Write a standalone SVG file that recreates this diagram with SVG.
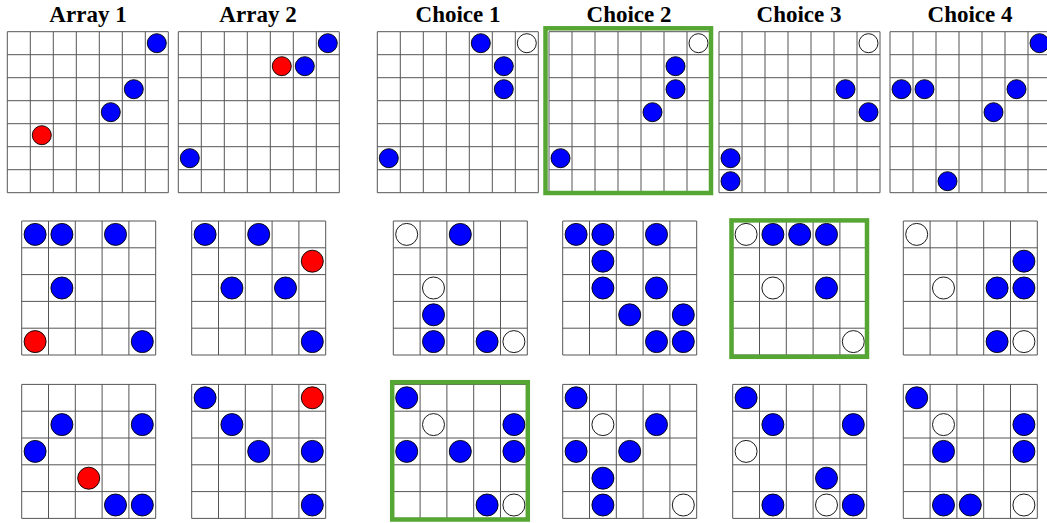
<svg xmlns="http://www.w3.org/2000/svg" xmlns:xlink="http://www.w3.org/1999/xlink" width="1047" height="523" viewBox="0 0 1047 523">
<style>
.t{font-family:"Liberation Serif","Times New Roman",serif;font-weight:bold;font-size:23px;text-anchor:middle;fill:#000}
.gl{fill:#fff;stroke:#555;stroke-width:1}
.b{fill:#0000ff;stroke:#000;stroke-width:0.9}
.r{fill:#ff0000;stroke:#000;stroke-width:0.9}
.w{fill:#fff;stroke:#000;stroke-width:0.9}
.hl{fill:none;stroke:#55a633;stroke-width:4.5}
</style>
<defs>
<path id="g7" class="gl" d="M0,0H161V161H0Z M23,0V161 M46,0V161 M69,0V161 M92,0V161 M115,0V161 M138,0V161 M0,23H161 M0,46H161 M0,69H161 M0,92H161 M0,115H161 M0,138H161"/>
<path id="g5" class="gl" d="M0,0H134V134H0Z M26.8,0V134 M53.6,0V134 M80.4,0V134 M107.2,0V134 M0,26.8H134 M0,53.6H134 M0,80.4H134 M0,107.2H134"/>
</defs>
<rect width="1047" height="523" fill="#fff"/>
<g id="titles">
<text class="t" x="88" y="22">Array 1</text>
<text class="t" x="258" y="22">Array 2</text>
<text class="t" x="458" y="22">Choice 1</text>
<text class="t" x="629" y="22">Choice 2</text>
<text class="t" x="799" y="22">Choice 3</text>
<text class="t" x="970" y="22">Choice 4</text>
</g>
<!-- Row 1 : 7x7 -->
<g id="r1-array1" transform="translate(7.3,31.7)">
<use xlink:href="#g7"/>
<circle class="b" cx="149.5" cy="11.5" r="9.5"/>
<circle class="b" cx="126.5" cy="57.5" r="9.5"/>
<circle class="b" cx="103.5" cy="80.5" r="9.5"/>
<circle class="r" cx="34.5" cy="103.5" r="9.5"/>
</g>
<g id="r1-array2" transform="translate(178.3,31.7)">
<use xlink:href="#g7"/>
<circle class="b" cx="149.5" cy="11.5" r="9.5"/>
<circle class="r" cx="103.5" cy="34.5" r="9.5"/>
<circle class="b" cx="126.5" cy="34.5" r="9.5"/>
<circle class="b" cx="11.5" cy="126.5" r="9.5"/>
</g>
<g id="r1-choice1" transform="translate(377.3,31.7)">
<use xlink:href="#g7"/>
<circle class="b" cx="103.5" cy="11.5" r="9.5"/>
<circle class="w" cx="149.5" cy="11.5" r="9.5"/>
<circle class="b" cx="126.5" cy="34.5" r="9.5"/>
<circle class="b" cx="126.5" cy="57.5" r="9.5"/>
<circle class="b" cx="11.5" cy="126.5" r="9.5"/>
</g>
<g id="r1-choice2" transform="translate(549,31.7)">
<use xlink:href="#g7"/>
<circle class="w" cx="149.5" cy="11.5" r="9.5"/>
<circle class="b" cx="126.5" cy="34.5" r="9.5"/>
<circle class="b" cx="126.5" cy="57.5" r="9.5"/>
<circle class="b" cx="103.5" cy="80.5" r="9.5"/>
<circle class="b" cx="11.5" cy="126.5" r="9.5"/>
<rect class="hl" x="-3.5" y="-3.4" width="165.5" height="164.7"/>
</g>
<g id="r1-choice3" transform="translate(719,31.7)">
<use xlink:href="#g7"/>
<circle class="w" cx="149.5" cy="11.5" r="9.5"/>
<circle class="b" cx="126.5" cy="57.5" r="9.5"/>
<circle class="b" cx="149.5" cy="80.5" r="9.5"/>
<circle class="b" cx="11.5" cy="126.5" r="9.5"/>
<circle class="b" cx="11.5" cy="149.5" r="9.5"/>
</g>
<g id="r1-choice4" transform="translate(890,31.7)">
<use xlink:href="#g7"/>
<circle class="b" cx="149.5" cy="11.5" r="9.5"/>
<circle class="b" cx="11.5" cy="57.5" r="9.5"/>
<circle class="b" cx="34.5" cy="57.5" r="9.5"/>
<circle class="b" cx="126.5" cy="57.5" r="9.5"/>
<circle class="b" cx="103.5" cy="80.5" r="9.5"/>
<circle class="b" cx="57.5" cy="149.5" r="9.5"/>
</g>
<!-- Row 2 : 5x5 -->
<g id="r2-array1" transform="translate(21.7,221)">
<use xlink:href="#g5"/>
<circle class="b" cx="13.4" cy="13.4" r="11"/>
<circle class="b" cx="40.2" cy="13.4" r="11"/>
<circle class="b" cx="93.8" cy="13.4" r="11"/>
<circle class="b" cx="40.2" cy="67" r="11"/>
<circle class="r" cx="13.4" cy="120.6" r="11"/>
<circle class="b" cx="120.6" cy="120.6" r="11"/>
</g>
<g id="r2-array2" transform="translate(191.7,221)">
<use xlink:href="#g5"/>
<circle class="b" cx="13.4" cy="13.4" r="11"/>
<circle class="b" cx="67" cy="13.4" r="11"/>
<circle class="r" cx="120.6" cy="40.2" r="11"/>
<circle class="b" cx="40.2" cy="67" r="11"/>
<circle class="b" cx="93.8" cy="67" r="11"/>
<circle class="b" cx="120.6" cy="120.6" r="11"/>
</g>
<g id="r2-choice1" transform="translate(393.3,221)">
<use xlink:href="#g5"/>
<circle class="w" cx="13.4" cy="13.4" r="11"/>
<circle class="b" cx="67" cy="13.4" r="11"/>
<circle class="w" cx="40.2" cy="67" r="11"/>
<circle class="b" cx="40.2" cy="93.8" r="11"/>
<circle class="b" cx="40.2" cy="120.6" r="11"/>
<circle class="b" cx="93.8" cy="120.6" r="11"/>
<circle class="w" cx="120.6" cy="120.6" r="11"/>
</g>
<g id="r2-choice2" transform="translate(562.7,221)">
<use xlink:href="#g5"/>
<circle class="b" cx="13.4" cy="13.4" r="11"/>
<circle class="b" cx="40.2" cy="13.4" r="11"/>
<circle class="b" cx="93.8" cy="13.4" r="11"/>
<circle class="b" cx="40.2" cy="40.2" r="11"/>
<circle class="b" cx="40.2" cy="67" r="11"/>
<circle class="b" cx="93.8" cy="67" r="11"/>
<circle class="b" cx="67" cy="93.8" r="11"/>
<circle class="b" cx="120.6" cy="93.8" r="11"/>
<circle class="b" cx="93.8" cy="120.6" r="11"/>
<circle class="b" cx="120.6" cy="120.6" r="11"/>
</g>
<g id="r2-choice3" transform="translate(732.7,221)">
<use xlink:href="#g5"/>
<circle class="w" cx="13.4" cy="13.4" r="11"/>
<circle class="b" cx="40.2" cy="13.4" r="11"/>
<circle class="b" cx="67" cy="13.4" r="11"/>
<circle class="b" cx="93.8" cy="13.4" r="11"/>
<circle class="w" cx="40.2" cy="67" r="11"/>
<circle class="b" cx="93.8" cy="67" r="11"/>
<circle class="w" cx="120.6" cy="120.6" r="11"/>
<rect class="hl" x="-1.2" y="-0.6" width="135.5" height="136.4"/>
</g>
<g id="r2-choice4" transform="translate(903.3,221)">
<use xlink:href="#g5"/>
<circle class="w" cx="13.4" cy="13.4" r="11"/>
<circle class="b" cx="120.6" cy="40.2" r="11"/>
<circle class="w" cx="40.2" cy="67" r="11"/>
<circle class="b" cx="93.8" cy="67" r="11"/>
<circle class="b" cx="120.6" cy="67" r="11"/>
<circle class="b" cx="93.8" cy="120.6" r="11"/>
<circle class="w" cx="120.6" cy="120.6" r="11"/>
</g>
<!-- Row 3 : 5x5 -->
<g id="r3-array1" transform="translate(21.7,384.4)">
<use xlink:href="#g5"/>
<circle class="b" cx="40.2" cy="40.2" r="11"/>
<circle class="b" cx="120.6" cy="40.2" r="11"/>
<circle class="b" cx="13.4" cy="67" r="11"/>
<circle class="r" cx="67" cy="93.8" r="11"/>
<circle class="b" cx="93.8" cy="120.6" r="11"/>
<circle class="b" cx="120.6" cy="120.6" r="11"/>
</g>
<g id="r3-array2" transform="translate(191.7,384.4)">
<use xlink:href="#g5"/>
<circle class="b" cx="13.4" cy="13.4" r="11"/>
<circle class="r" cx="120.6" cy="13.4" r="11"/>
<circle class="b" cx="40.2" cy="40.2" r="11"/>
<circle class="b" cx="67" cy="67" r="11"/>
<circle class="b" cx="120.6" cy="67" r="11"/>
<circle class="b" cx="120.6" cy="120.6" r="11"/>
</g>
<g id="r3-choice1" transform="translate(393.3,384.4)">
<use xlink:href="#g5"/>
<circle class="b" cx="13.4" cy="13.4" r="11"/>
<circle class="w" cx="40.2" cy="40.2" r="11"/>
<circle class="b" cx="120.6" cy="40.2" r="11"/>
<circle class="b" cx="13.4" cy="67" r="11"/>
<circle class="b" cx="67" cy="67" r="11"/>
<circle class="b" cx="120.6" cy="67" r="11"/>
<circle class="b" cx="93.8" cy="120.6" r="11"/>
<circle class="w" cx="120.6" cy="120.6" r="11"/>
<rect class="hl" x="-1.1" y="-2.2" width="135.6" height="137.3"/>
</g>
<g id="r3-choice2" transform="translate(562.7,384.4)">
<use xlink:href="#g5"/>
<circle class="b" cx="13.4" cy="13.4" r="11"/>
<circle class="w" cx="40.2" cy="40.2" r="11"/>
<circle class="b" cx="93.8" cy="40.2" r="11"/>
<circle class="b" cx="13.4" cy="67" r="11"/>
<circle class="b" cx="67" cy="67" r="11"/>
<circle class="b" cx="40.2" cy="93.8" r="11"/>
<circle class="b" cx="40.2" cy="120.6" r="11"/>
<circle class="w" cx="120.6" cy="120.6" r="11"/>
</g>
<g id="r3-choice3" transform="translate(732.7,384.4)">
<use xlink:href="#g5"/>
<circle class="b" cx="13.4" cy="13.4" r="11"/>
<circle class="b" cx="40.2" cy="40.2" r="11"/>
<circle class="b" cx="120.6" cy="40.2" r="11"/>
<circle class="w" cx="13.4" cy="67" r="11"/>
<circle class="b" cx="93.8" cy="93.8" r="11"/>
<circle class="b" cx="40.2" cy="120.6" r="11"/>
<circle class="w" cx="93.8" cy="120.6" r="11"/>
<circle class="b" cx="120.6" cy="120.6" r="11"/>
</g>
<g id="r3-choice4" transform="translate(903.3,384.4)">
<use xlink:href="#g5"/>
<circle class="b" cx="13.4" cy="13.4" r="11"/>
<circle class="w" cx="40.2" cy="40.2" r="11"/>
<circle class="b" cx="120.6" cy="40.2" r="11"/>
<circle class="b" cx="40.2" cy="67" r="11"/>
<circle class="b" cx="120.6" cy="67" r="11"/>
<circle class="b" cx="40.2" cy="120.6" r="11"/>
<circle class="b" cx="67" cy="120.6" r="11"/>
<circle class="w" cx="120.6" cy="120.6" r="11"/>
</g>
<g id="connectors"/>
</svg>
